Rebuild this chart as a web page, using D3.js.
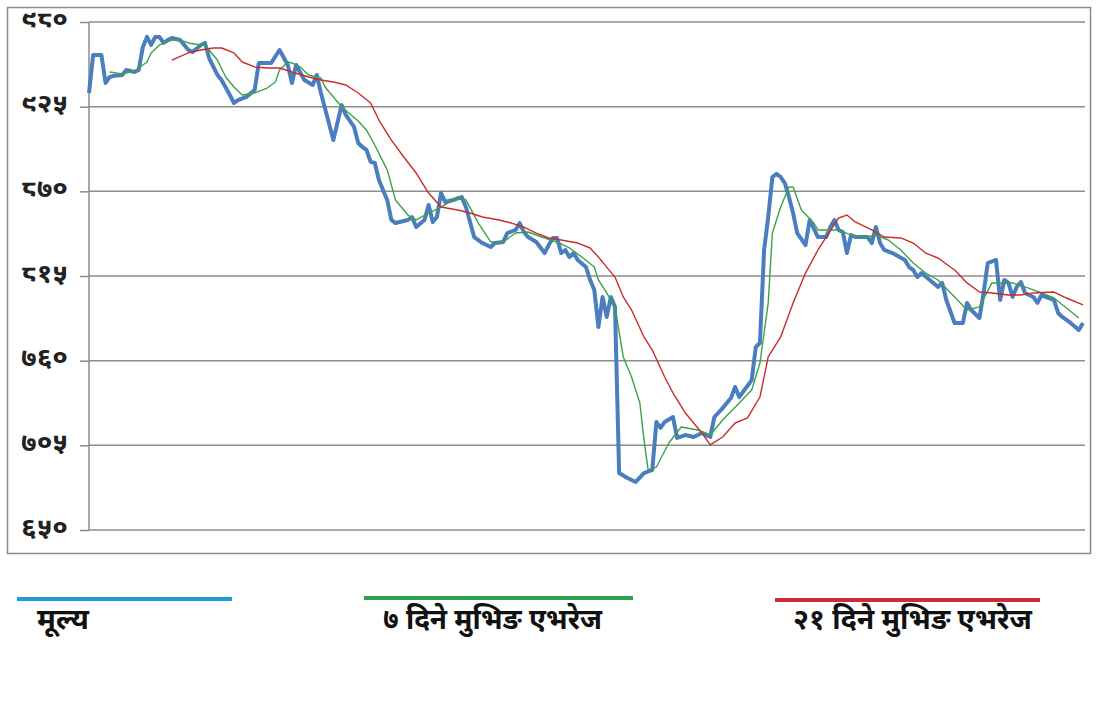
<!doctype html>
<html lang="ne">
<head>
  <meta charset="utf-8">
  <title>मूल्य र मुभिङ एभरेज</title>
  <style>
    body { margin:0; background:#fff; }
    #chart svg { display:block; }
    .tick text { font-family:"Noto Sans Devanagari","Noto Sans","Lohit Devanagari",sans-serif; font-weight:bold; font-size:25px; fill:#222; }
    .legend text { font-family:"Noto Sans Devanagari","Noto Sans","Lohit Devanagari",sans-serif; font-weight:bold; font-size:29px; fill:#111; }
  </style>
</head>
<body>
<div id="chart"></div>

<script src="https://cdn.jsdelivr.net/npm/d3@7"></script>
<script>
// y axis ticks, Devanagari digits
var tickValues = [650, 705, 760, 815, 870, 925, 980];
var tickLabels = ["६५०", "७०५", "७६०", "८१५", "८७०", "९२५", "९८०"];

// price (मूल्य)
var priceDays = [0,1,3,4,5,6,8,9,11,12,13,14,15,16,17,18,19,20,22,24,25,27,28,29,31,32,34,35,36,38,40,41,44,46,48,49,50,52,54,55,56,59,61,62,64,65,66,67,68,69,70,72,73,74,77,78,79,81,82,83,84,85,86,88,90,91,93,95,97,98,100,101,103,104,105,106,108,110,111,112,113,114,115,116,117,118,120,121,122,123,124,125,126,127,128,130,132,134,136,137,138,139,141,142,144,146,148,150,151,153,155,156,157,160,161,162,163,164,165,166,167,168,169,170,171,173,174,176,178,179,180,181,182,183,184,185,188,189,190,191,192,194,197,198,199,200,201,203,205,206,207,209,211,212,213,215,216,217,219,220,221,222,223,224,225,226,228,229,230,231,233,234,235,237,239,240];
var priceValues = [933.9,958.6,958.6,940.4,944.3,945.0,945.6,948.8,947.5,948.8,963.8,970.3,965.1,970.3,970.3,966.4,968.3,969.6,968.3,961.8,960.5,965.1,966.4,956.6,945.6,942.3,932.6,927.4,929.3,931.3,935.8,953.4,953.4,961.8,952.1,940.4,952.1,942.3,939.1,945.6,933.9,903.3,926.1,919.6,911.8,901.4,898.8,896.9,889.1,888.4,877.4,864.4,851.4,849.4,851.4,853.3,846.8,851.4,861.1,850.1,853.3,868.9,863.1,864.4,866.3,859.8,840.3,836.4,833.8,836.4,837.1,842.9,844.9,849.4,843.6,840.3,837.1,829.9,835.1,839.7,839.7,829.9,831.9,827.3,829.9,825.4,820.8,812.4,805.9,781.9,801.4,788.4,801.4,794.9,687.0,683.8,681.2,687.0,689.0,720.2,716.3,720.2,723.4,709.8,711.7,710.4,713.0,710.4,723.4,729.2,735.7,742.9,736.4,747.4,768.9,771.5,831.9,853.3,879.3,881.3,879.3,875.4,866.3,855.9,842.9,835.1,851.4,840.3,840.3,846.8,851.4,844.9,843.6,829.9,841.6,840.3,840.3,836.4,846.8,836.4,831.9,829.9,825.4,820.8,818.9,814.3,816.9,812.4,807.9,810.5,799.4,784.5,784.5,797.5,792.9,787.7,804.0,823.4,825.4,799.4,812.4,810.5,801.4,807.9,811.1,804.0,801.4,797.5,802.7,801.4,799.4,791.0,788.4,784.5,779.9,784.5];

// ७ दिने मुभिङ एभरेज
var ma7Days = [5,8,11,14,15,17,20,22,24,27,28,31,33,35,37,40,43,45,46,48,49,51,53,56,57,59,61,65,67,69,72,74,77,79,82,85,89,91,94,97,100,103,106,110,113,116,119,122,123,125,127,129,131,133,134,135,137,140,143,147,150,153,157,160,162,164,165,167,169,170,172,175,176,179,181,184,188,190,193,196,199,202,205,209,212,215,218,220,223,226,230,233,236,239];
var ma7Values = [947.5,946.2,948.2,954.0,959.9,965.1,968.3,968.3,966.4,965.1,965.1,955.3,944.3,937.8,932.6,933.9,937.1,941.0,948.8,954.0,953.4,950.8,945.6,943.6,937.8,931.3,924.8,915.7,909.8,900.1,883.9,864.4,854.6,851.4,855.9,859.8,866.3,864.4,849.4,837.1,837.1,842.9,843.6,839.7,837.1,833.2,827.3,820.8,812.4,804.0,794.9,762.4,749.4,732.5,708.5,689.0,690.9,706.5,716.9,715.0,711.7,721.5,732.5,740.9,758.5,797.5,842.9,859.8,872.8,872.8,857.9,849.4,844.9,844.9,844.9,841.6,840.3,841.6,838.4,831.9,823.4,816.9,812.4,801.4,792.9,794.9,810.5,810.5,810.5,807.9,804.0,800.7,794.2,787.7];

// २१ दिने मुभिङ एभरेज
var ma21Days = [20,24,27,30,32,35,37,40,43,46,49,53,56,59,62,65,68,70,73,76,79,82,85,89,92,95,99,102,105,108,111,114,118,121,123,125,127,129,131,134,136,139,141,144,148,150,153,156,159,162,164,167,170,173,176,178,181,183,185,189,192,196,199,202,205,209,212,215,218,222,225,228,233,236,240];
var ma21Values = [955.3,959.9,961.8,963.1,963.1,959.9,954.0,950.8,950.1,950.1,947.5,944.3,942.3,941.0,939.1,933.9,927.4,916.3,903.3,892.3,881.9,868.9,859.8,857.9,855.9,853.3,851.4,849.4,846.8,842.9,839.7,838.4,836.4,833.2,827.3,820.8,814.3,801.4,792.9,775.4,766.9,749.4,739.0,726.0,713.0,705.3,710.4,719.5,722.8,736.4,762.4,775.4,797.5,816.9,831.9,840.3,852.7,854.6,850.1,844.9,840.3,839.7,836.4,829.9,826.7,818.9,810.5,804.6,804.0,802.7,802.7,804.0,804.6,800.7,796.2];

// legend labels
var legendLabels = ["मूल्य", "७ दिने मुभिङ एभरेज", "२१ दिने मुभिङ एभरेज"];

var W = 1100, H = 701;
var svg = d3.select("#chart").append("svg").attr("width", W).attr("height", H);

// outer frame
svg.append("rect")
  .attr("x", 7.5).attr("y", 7.5).attr("width", 1083).attr("height", 546)
  .attr("fill", "none").attr("stroke", "#8a8a8a").attr("stroke-width", 1.5);

var x = d3.scaleLinear().domain([0, 240]).range([89, 1083]);
var y = d3.scaleLinear().domain([650, 980]).range([530, 22]);

// gridlines
svg.append("g").selectAll("line").data(tickValues).enter().append("line")
  .attr("x1", 89).attr("x2", 1085)
  .attr("y1", function(d){ return y(d); }).attr("y2", function(d){ return y(d); })
  .attr("stroke", "#8c8c8c").attr("stroke-width", 1.5);

var yAxis = d3.axisLeft(y)
  .tickValues(tickValues)
  .tickSize(9)
  .tickPadding(12)
  .tickFormat(function(d, i){ return tickLabels[i]; });

var ax = svg.append("g").attr("transform", "translate(89,0)").call(yAxis);
ax.select(".domain").attr("stroke", "#8c8c8c").attr("stroke-width", 1.5).attr("d", "M0,22V530");
ax.selectAll(".tick line").attr("stroke", "#8c8c8c").attr("stroke-width", 1.5);
ax.selectAll(".tick text").attr("dy", "0.2em").attr("textLength", 47).attr("lengthAdjust", "spacingAndGlyphs");

function drawLine(days, vals, color, width) {
  var pts = days.map(function(d, i){ return [d, vals[i]]; });
  var line = d3.line().x(function(p){ return x(p[0]); }).y(function(p){ return y(p[1]); });
  svg.append("path").datum(pts)
    .attr("d", line)
    .attr("fill", "none")
    .attr("stroke", color)
    .attr("stroke-width", width)
    .attr("stroke-linejoin", "round");
}

drawLine(priceDays, priceValues, "#4a7ebf", 4);
drawLine(ma7Days, ma7Values, "#3aa24a", 1.4);
drawLine(ma21Days, ma21Values, "#cc2b2b", 1.4);

// legend
var legendItems = [
  { x1: 17, x2: 232, ly: 599, tx: 37, tw: 52, color: "#1f9bd7" },
  { x1: 364, x2: 633, ly: 598, tx: 383, tw: 219, color: "#2ea34f" },
  { x1: 775, x2: 1040, ly: 600, tx: 793, tw: 239, color: "#d12a3a" }
];
var lg = svg.append("g").attr("class", "legend");
legendItems.forEach(function(it, i){
  lg.append("line")
    .attr("x1", it.x1).attr("x2", it.x2).attr("y1", it.ly).attr("y2", it.ly)
    .attr("stroke", it.color).attr("stroke-width", 4);
  lg.append("text")
    .attr("x", it.tx).attr("y", 629)
    .attr("textLength", it.tw).attr("lengthAdjust", "spacingAndGlyphs")
    .text(legendLabels[i]);
});
</script>
</body>
</html>
